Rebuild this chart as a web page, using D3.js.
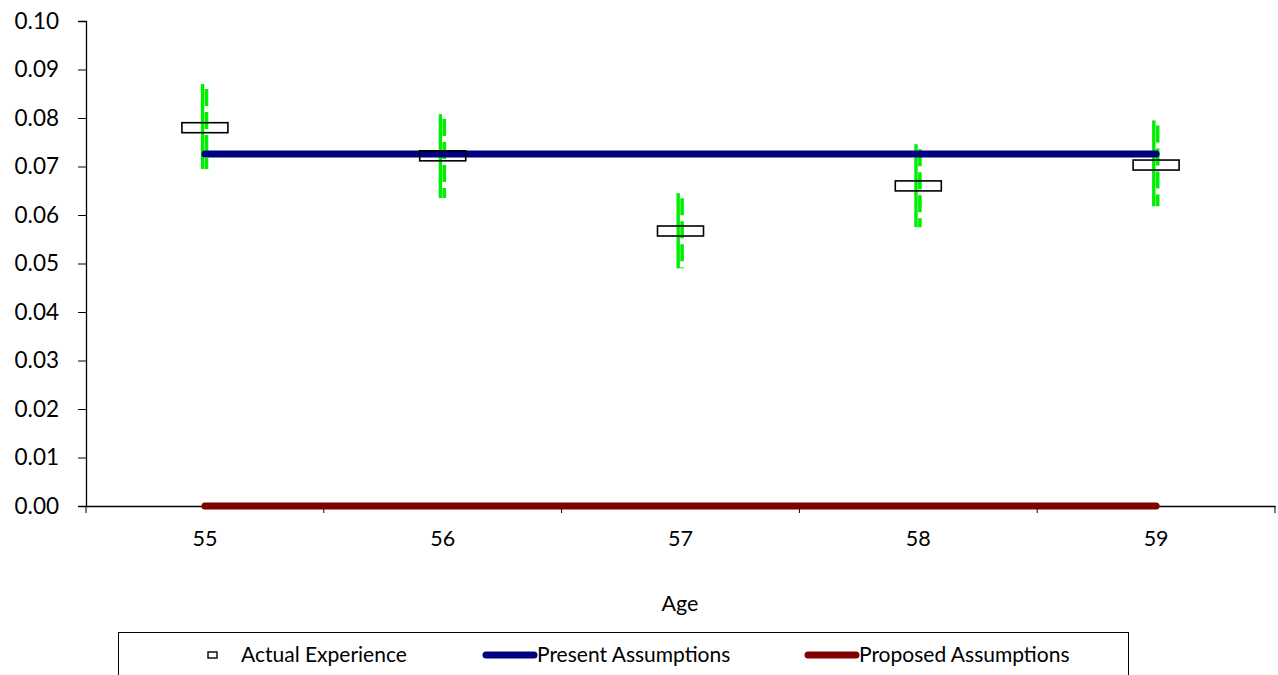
<!DOCTYPE html>
<html><head><meta charset="utf-8">
<script src="https://cdn.jsdelivr.net/npm/d3@7"></script>
<style>body{margin:0;background:#fff}svg{display:block}text{font-family:Lato,"Open Sans",sans-serif;fill:#000}</style>
</head><body>
<svg id="c" width="1278" height="675"></svg>
<script>
const ages = ["55","56","57","58","59"];
const actual = [0.078, 0.0722, 0.0567, 0.066, 0.0703];
const errHigh = [0.087, 0.0808, 0.0645, 0.0746, 0.0795];
const errLow = [0.0695, 0.0635, 0.049, 0.0575, 0.0618];
const present = [0.0726, 0.0726, 0.0726, 0.0726, 0.0726];
const proposed = [0, 0, 0, 0, 0];
const yTicks = [0,0.01,0.02,0.03,0.04,0.05,0.06,0.07,0.08,0.09,0.10];

const svg = d3.select("#c");
const x = d3.scaleBand().domain(ages).range([86,1275]);
const y = d3.scaleLinear().domain([0,0.10]).range([506,21]);
const cx = d => x(d)+x.bandwidth()/2;

// axes
const ya = svg.append("g").attr("transform","translate(86,0)")
  .call(d3.axisLeft(y).tickValues(yTicks).tickFormat(d3.format(".2f")).tickSize(8).tickPadding(19));
ya.selectAll("text").style("font-size","22.5px");
const xa = svg.append("g").attr("transform","translate(0,506)")
  .call(d3.axisBottom(x).tickSize(0).tickPadding(25));
xa.selectAll("text").style("font-size","21.5px");
// band-edge ticks
const edges = ages.map(a=>x(a)).concat([1275]);
xa.selectAll(".edge").data(edges).enter().append("line")
  .attr("x1",d=>d).attr("x2",d=>d).attr("y1",0).attr("y2",7).attr("stroke","#000");
svg.selectAll(".domain").attr("stroke","#000").attr("stroke-width",1.3);
svg.selectAll(".tick line").attr("stroke","#000");

svg.append("text").attr("x",680).attr("y",611).attr("text-anchor","middle").style("font-size","21.5px").text("Age");

// lines
const line = d3.line().x((d,i)=>cx(ages[i])).y(d=>y(d));
svg.append("path").datum(proposed).attr("d",line).attr("fill","none")
  .attr("stroke","#800000").attr("stroke-width",7).attr("stroke-linecap","round");

// error bars
const eb = svg.append("g");
ages.forEach((a,i)=>{
  eb.append("line").attr("x1",cx(a)-2.3).attr("x2",cx(a)-2.3).attr("y1",y(errHigh[i])).attr("y2",y(errLow[i]))
    .attr("stroke","#00ee00").attr("stroke-width",3.4);
  eb.append("line").attr("x1",cx(a)+1.6).attr("x2",cx(a)+1.6).attr("y1",y(errHigh[i])+5).attr("y2",y(errLow[i]))
    .attr("stroke","#00ee00").attr("stroke-width",3.6).attr("stroke-dasharray","17,6");
});

svg.append("path").datum(present).attr("d",line).attr("fill","none")
  .attr("stroke","#000080").attr("stroke-width",7).attr("stroke-linecap","round");

// boxes
svg.selectAll(".box").data(actual).enter().append("rect")
  .attr("x",(d,i)=>cx(ages[i])-23).attr("y",d=>y(d)-5).attr("width",46).attr("height",10)
  .attr("fill","none").attr("stroke","#000").attr("stroke-width",1.6);

// legend
const lg = svg.append("g");
lg.append("rect").attr("x",118.5).attr("y",632.5).attr("width",1010).attr("height",60)
  .attr("fill","#fff").attr("stroke","#000").attr("stroke-width",1);
lg.append("rect").attr("x",208).attr("y",652).attr("width",9).attr("height",6).attr("fill","#fff").attr("stroke","#000").attr("stroke-width",1.4);
lg.append("text").attr("x",241).attr("y",662).style("font-size","21px").text("Actual Experience");
lg.append("line").attr("x1",486).attr("x2",534).attr("y1",655).attr("y2",655).attr("stroke","#000080").attr("stroke-width",7).attr("stroke-linecap","round");
lg.append("text").attr("x",537).attr("y",662).style("font-size","21px").text("Present Assumptions");
lg.append("line").attr("x1",808).attr("x2",856).attr("y1",655).attr("y2",655).attr("stroke","#800000").attr("stroke-width",7).attr("stroke-linecap","round");
lg.append("text").attr("x",859).attr("y",662).style("font-size","21px").text("Proposed Assumptions");
</script>
</body></html>
